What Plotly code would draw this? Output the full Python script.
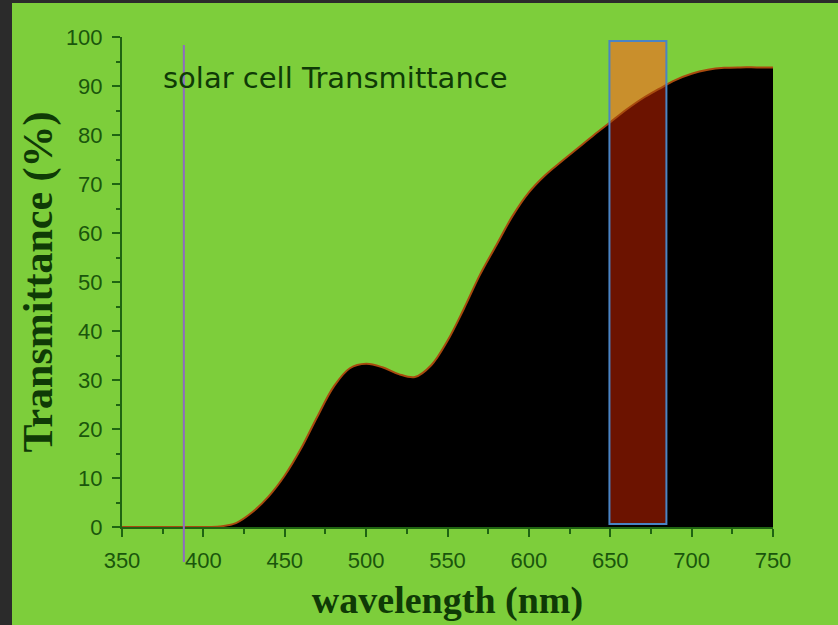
import numpy as np
import plotly.graph_objects as go

# ---------------- data ----------------
wavelength = [350, 360, 370, 380, 390, 400, 410, 420, 430, 440, 450, 460, 470, 480,
              490, 500, 510, 520, 530, 540, 550, 560, 570, 580, 590, 600, 610, 620,
              630, 640, 650, 660, 670, 680, 690, 700, 710, 720, 730, 740, 750]
transmittance = [0, 0, 0, 0, 0, 0, 0.1, 0.8, 3.0, 6.2, 10.5, 16.0, 22.5, 28.6,
                 32.4, 33.3, 32.6, 31.2, 30.6, 33.0, 38.0, 44.5, 51.5, 57.5, 63.5, 68.3, 71.8, 74.6,
                 77.3, 80.0, 82.6, 85.2, 87.5, 89.4, 91.2, 92.5, 93.3, 93.7, 93.8, 93.8, 93.8]
x_ticks = [350, 400, 450, 500, 550, 600, 650, 700, 750]
y_ticks = [0, 10, 20, 30, 40, 50, 60, 70, 80, 90, 100]
band_start, band_end = 649.5, 684.5        # highlighted band (nm)
band_low, band_high = 0.6, 99.2            # band vertical extent (%)
marker_wavelength = 388                    # purple marker line (nm)
title_text = "solar cell Transmittance"

# ---------------- styles ----------------
GREEN = "#7dce3b"
DARK = "#2b2b2b"
AX = "#1f6412"
TXT = "#1a560c"
TITLE = "#0f3a06"

fig = go.Figure()

# black filled area
fig.add_trace(go.Scatter(x=wavelength, y=transmittance, mode="lines",
                         line=dict(width=0, shape="spline", smoothing=1.0),
                         fill="tozeroy", fillcolor="#000000", hoverinfo="skip",
                         showlegend=False))

# dark red part of the band under the curve
wl = np.array(wavelength, dtype=float)
tr = np.array(transmittance, dtype=float)
inside = wl[(wl > band_start) & (wl < band_end)]
bx = np.concatenate([[band_start], inside, [band_end]])
by = np.interp(bx, wl, tr)
fig.add_trace(go.Scatter(x=list(bx) + [band_end, band_start],
                         y=list(by) + [band_low, band_low],
                         mode="lines", line=dict(width=0), fill="toself",
                         fillcolor="#6c1300", hoverinfo="skip", showlegend=False))

# curve edge line
fig.add_trace(go.Scatter(x=wavelength, y=transmittance, mode="lines",
                         line=dict(width=2, color="#a84a0e", shape="spline", smoothing=1.0),
                         hoverinfo="skip", showlegend=False))

# ---------------- shapes ----------------
L, R, T, B = 122, 65, 37, 98
W, H = 838, 625
pw, ph = W - L - R, H - T - B

def px_x(p):
    return (p - L) / pw

def px_y(p):
    return (H - B - p) / ph

shapes = [
    # green panel
    dict(type="rect", xref="paper", yref="paper", x0=px_x(12), x1=px_x(840),
         y0=px_y(628), y1=px_y(3), fillcolor=GREEN, line=dict(width=0), layer="below"),
    # orange band (behind traces)
    dict(type="rect", xref="x", yref="y", x0=band_start, x1=band_end,
         y0=band_low, y1=band_high, fillcolor="#c98f2c", line=dict(width=0), layer="below"),
    # band outline
    dict(type="rect", xref="x", yref="y", x0=band_start, x1=band_end,
         y0=band_low, y1=band_high, fillcolor="rgba(0,0,0,0)",
         line=dict(width=2, color="#4a84c4"), layer="above"),
    # purple marker line
    dict(type="line", xref="x", yref="paper", x0=marker_wavelength, x1=marker_wavelength,
         y0=px_y(562), y1=px_y(45), line=dict(width=2, color="#8e6cc0"), layer="above"),
]

fig.update_layout(
    width=W, height=H,
    margin=dict(l=L, r=R, t=T, b=B, autoexpand=False),
    paper_bgcolor=DARK,
    plot_bgcolor="rgba(0,0,0,0)",
    shapes=shapes,
    showlegend=False,
    xaxis=dict(range=[350, 750], tickvals=x_ticks, ticks="outside", ticklen=8, tickwidth=2,
               tickcolor=AX, showline=True, linecolor=AX, linewidth=2, showgrid=False,
               zeroline=False, minor=dict(dtick=25, ticks="outside", ticklen=5, tickwidth=2,
                                          tickcolor=AX, tick0=350),
               tickfont=dict(family="Liberation Sans", size=22, color=TXT),
               ticklabelstandoff=5,
               title=dict(text="<b>wavelength (nm)</b>", standoff=14,
                          font=dict(family="Liberation Serif", size=38, color=TITLE))),
    xaxis2=dict(range=[350, 750], overlaying="x", side="top", tickvals=x_ticks,
                ticks="inside", ticklen=8, tickwidth=2, tickcolor=AX, showticklabels=False,
                showline=True, linecolor=AX, linewidth=2, showgrid=False, zeroline=False,
                minor=dict(dtick=25, ticks="inside", ticklen=5, tickwidth=2, tickcolor=AX,
                           tick0=350)),
    yaxis=dict(range=[0, 100], tickvals=y_ticks, ticks="outside", ticklen=8, tickwidth=2,
               tickcolor=AX, showline=True, linecolor=AX, linewidth=2, showgrid=False,
               zeroline=False, minor=dict(dtick=5, ticks="outside", ticklen=4, tickwidth=2,
                                          tickcolor=AX),
               tickfont=dict(family="Liberation Sans", size=22, color=TXT),
               ticklabelstandoff=5,
               title=dict(text="<b>Transmittance (%)</b>", standoff=0,
                          font=dict(family="Liberation Serif", size=42, color=TITLE))),
    yaxis2=dict(range=[0, 100], overlaying="y", side="right", tickvals=y_ticks, ticks="",
                showline=True, linecolor=AX, linewidth=2, showgrid=False, zeroline=False,
                layer="below traces",
                tickfont=dict(family="Liberation Sans", size=22, color=TXT),
                ticklabelstandoff=16),
    annotations=[dict(text=title_text, xref="x", yref="y", x=374.0, y=91.6, xanchor="left",
                      yanchor="middle", showarrow=False,
                      font=dict(family="DejaVu Sans", size=29, color=TITLE))],
)

fig.write_html("out.html",
               config={"displayModeBar": False},
               post_script="document.body.style.margin='0';"
                           "document.body.style.background='#2b2b2b';")
